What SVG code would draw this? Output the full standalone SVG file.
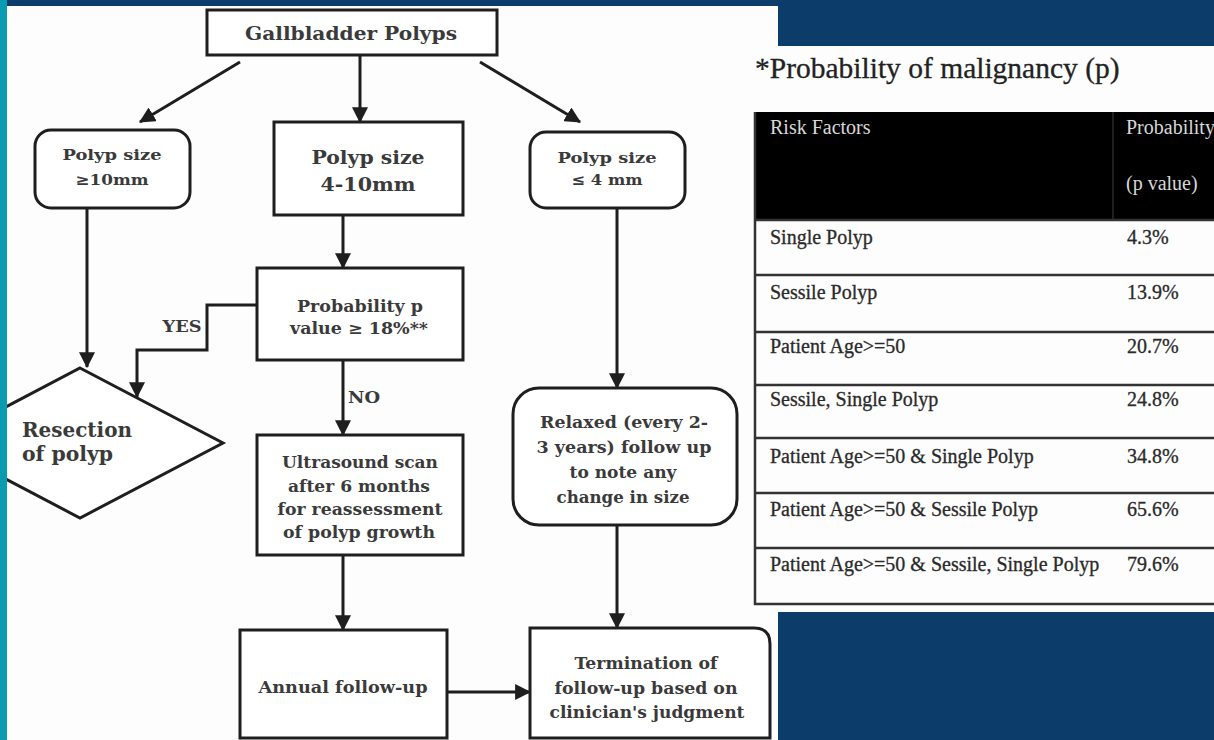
<svg xmlns="http://www.w3.org/2000/svg" width="1214" height="740" viewBox="0 0 1214 740">
<style>
.box{fill:#fff;stroke:#1e1e1e;stroke-width:3}
.t{font-family:"DejaVu Serif","Liberation Serif",serif;font-weight:bold;fill:#3a3a3a;text-anchor:middle}
.conn{stroke:#1e1e1e;stroke-width:3;fill:none}
.tb{font-family:"Liberation Serif","Times New Roman",serif;fill:#2a2a2a;font-size:20px;stroke:#2a2a2a;stroke-width:0.3}
.th{font-family:"Liberation Serif","Times New Roman",serif;fill:#d8d8d8;font-size:20px}
.rl{stroke:#333;stroke-width:2.5}
</style>
<defs>
<marker id="ah" markerUnits="userSpaceOnUse" markerWidth="16" markerHeight="16" viewBox="0 0 14 14" refX="13" refY="7" orient="auto">
<path d="M0,0 L14,7 L0,14 Z" fill="#1e1e1e"/>
</marker>
</defs>
<rect x="0" y="0" width="1214" height="740" fill="#0b3c6a"/>
<path d="M7,6 H778 V46 H1214 V612 H778 V740 H7 Z" fill="#fdfdfd"/>

<g id="connectors">
<path class="conn" d="M240,62 L140,122" marker-end="url(#ah)"/>
<path class="conn" d="M360,56 L360,122" marker-end="url(#ah)"/>
<path class="conn" d="M480,62 L580,122" marker-end="url(#ah)"/>
<path class="conn" d="M87,208 L87,367" marker-end="url(#ah)"/>
<path class="conn" d="M343,215 L343,268" marker-end="url(#ah)"/>
<path class="conn" d="M257,305 H207 V350 H137 V397" marker-end="url(#ah)"/>
<path class="conn" d="M343,360 V435" marker-end="url(#ah)"/>
<path class="conn" d="M343,555 V630" marker-end="url(#ah)"/>
<path class="conn" d="M617,208 V388" marker-end="url(#ah)"/>
<path class="conn" d="M617,525 V628" marker-end="url(#ah)"/>
<path class="conn" d="M447,692 H530" marker-end="url(#ah)"/>
<text class="t" x="182" y="332" font-size="16" textLength="39" lengthAdjust="spacingAndGlyphs">YES</text>
<text class="t" x="364" y="403" font-size="16" textLength="32" lengthAdjust="spacingAndGlyphs">NO</text>
</g>

<g id="n-gallbladder">
<rect class="box" x="207" y="10" width="290" height="45"/>
<text class="t" x="351" y="40" font-size="19" textLength="212" lengthAdjust="spacingAndGlyphs">Gallbladder Polyps</text>
</g>
<g id="n-size10">
<rect class="box" x="35" y="130" width="155" height="78" rx="16"/>
<text class="t" x="112" y="160" font-size="15" textLength="99" lengthAdjust="spacingAndGlyphs">Polyp size</text>
<text class="t" x="112" y="185" font-size="15" textLength="73" lengthAdjust="spacingAndGlyphs">≥10mm</text>
</g>
<g id="n-size4-10">
<rect class="box" x="274" y="122" width="189" height="93"/>
<text class="t" x="368" y="164" font-size="18" textLength="113" lengthAdjust="spacingAndGlyphs">Polyp size</text>
<text class="t" x="368" y="191" font-size="18" textLength="95" lengthAdjust="spacingAndGlyphs">4-10mm</text>
</g>
<g id="n-size4">
<rect class="box" x="530" y="132" width="155" height="76" rx="16"/>
<text class="t" x="607" y="163" font-size="15" textLength="99" lengthAdjust="spacingAndGlyphs">Polyp size</text>
<text class="t" x="607" y="185" font-size="15" textLength="71" lengthAdjust="spacingAndGlyphs">≤ 4 mm</text>
</g>
<g id="n-prob">
<rect class="box" x="257" y="268" width="206" height="92"/>
<text class="t" x="360" y="312" font-size="16" textLength="126" lengthAdjust="spacingAndGlyphs">Probability p</text>
<text class="t" x="359" y="334" font-size="16" textLength="138" lengthAdjust="spacingAndGlyphs">value ≥ 18%**</text>
</g>
<g id="n-resection">
<path class="box" d="M80,368 L223,443 L80,518 L-63,443 Z"/>
<text class="t" x="22" y="437" font-size="20" textLength="110" lengthAdjust="spacingAndGlyphs" style="text-anchor:start">Resection</text>
<text class="t" x="22" y="461" font-size="20" textLength="91" lengthAdjust="spacingAndGlyphs" style="text-anchor:start">of polyp</text>
</g>
<g id="n-ultrasound">
<rect class="box" x="257" y="435" width="206" height="120"/>
<text class="t" x="360" y="468" font-size="17" textLength="156" lengthAdjust="spacingAndGlyphs">Ultrasound scan</text>
<text class="t" x="359" y="492" font-size="17" textLength="142" lengthAdjust="spacingAndGlyphs">after 6 months</text>
<text class="t" x="360" y="515" font-size="17" textLength="165" lengthAdjust="spacingAndGlyphs">for reassessment</text>
<text class="t" x="359" y="538" font-size="17" textLength="152" lengthAdjust="spacingAndGlyphs">of polyp growth</text>
</g>
<g id="n-annual">
<rect class="box" x="240" y="630" width="207" height="108"/>
<text class="t" x="343" y="693" font-size="17" textLength="169" lengthAdjust="spacingAndGlyphs">Annual follow-up</text>
</g>
<g id="n-relaxed">
<rect class="box" x="513" y="388" width="224" height="137" rx="26"/>
<text class="t" x="624" y="428" font-size="16.5" textLength="168" lengthAdjust="spacingAndGlyphs">Relaxed (every 2-</text>
<text class="t" x="624" y="453" font-size="16.5" textLength="175" lengthAdjust="spacingAndGlyphs">3 years) follow up</text>
<text class="t" x="623" y="478" font-size="16.5" textLength="107" lengthAdjust="spacingAndGlyphs">to note any</text>
<text class="t" x="623" y="503" font-size="16.5" textLength="133" lengthAdjust="spacingAndGlyphs">change in size</text>
</g>
<g id="n-termination">
<path class="box" d="M530,628 H754 Q770,628 770,644 V738 H530 Z"/>
<text class="t" x="646" y="669" font-size="17" textLength="143" lengthAdjust="spacingAndGlyphs">Termination of</text>
<text class="t" x="646" y="694" font-size="17" textLength="183" lengthAdjust="spacingAndGlyphs">follow-up based on</text>
<text class="t" x="647" y="718" font-size="17" textLength="195" lengthAdjust="spacingAndGlyphs">clinician's judgment</text>
</g>

<g id="table">
<text x="755" y="78" font-family="Liberation Serif, Times New Roman, serif" font-size="29.5" fill="#222" stroke="#222" stroke-width="0.3">*Probability of malignancy (p)</text>
<rect x="755" y="112" width="470" height="108" fill="#000"/>
<line x1="1113" y1="112" x2="1113" y2="220" stroke="#2a2a2a" stroke-width="1.5"/>
<line class="rl" x1="755" y1="112" x2="755" y2="605"/>
<line class="rl" x1="755" y1="220" x2="1214" y2="220"/>
<line class="rl" x1="755" y1="275" x2="1214" y2="275"/>
<line class="rl" x1="755" y1="332" x2="1214" y2="332"/>
<line class="rl" x1="755" y1="385" x2="1214" y2="385"/>
<line class="rl" x1="755" y1="438" x2="1214" y2="438"/>
<line class="rl" x1="755" y1="493" x2="1214" y2="493"/>
<line class="rl" x1="755" y1="548" x2="1214" y2="548"/>
<line class="rl" x1="754" y1="604" x2="1214" y2="604"/>
<text class="th" x="770" y="134">Risk Factors</text>
<text class="th" x="1126" y="134">Probability</text>
<text class="th" x="1126" y="190">(p value)</text>
<text class="tb" x="770" y="244">Single Polyp</text>
<text class="tb" x="1127" y="244">4.3%</text>
<text class="tb" x="770" y="299">Sessile Polyp</text>
<text class="tb" x="1127" y="299">13.9%</text>
<text class="tb" x="770" y="353">Patient Age&gt;=50</text>
<text class="tb" x="1127" y="353">20.7%</text>
<text class="tb" x="770" y="406">Sessile, Single Polyp</text>
<text class="tb" x="1127" y="406">24.8%</text>
<text class="tb" x="770" y="463">Patient Age&gt;=50 &amp; Single Polyp</text>
<text class="tb" x="1127" y="463">34.8%</text>
<text class="tb" x="770" y="516">Patient Age&gt;=50 &amp; Sessile Polyp</text>
<text class="tb" x="1127" y="516">65.6%</text>
<text class="tb" x="770" y="571">Patient Age&gt;=50 &amp; Sessile, Single Polyp</text>
<text class="tb" x="1127" y="571">79.6%</text>
</g>

<rect x="0" y="0" width="7" height="740" fill="#0a9bb0"/>
</svg>
